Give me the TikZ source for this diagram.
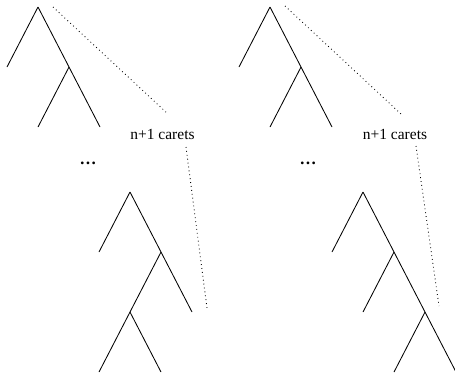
\documentclass[tikz,border=0pt]{standalone}
\usepackage{fontspec}
\setmainfont{Liberation Serif}
\begin{document}
\begin{tikzpicture}[
    x=0.025cm, y=-0.025cm,
    level distance=1.5cm,
    sibling distance=1.55cm,
    edge from parent/.style={draw, line width=0.6pt},
    % lower trees are a little taller
    lower/.style={level distance=1.55cm},
    caretlabel/.style={font=\fontsize{11}{13}\selectfont, inner sep=0pt},
    dotslabel/.style={font=\fontsize{12}{14}\selectfont\bfseries, inner sep=0pt},
    bound/.style={dash pattern=on 0.6pt off 2.2pt, line width=0.6pt}
  ]
  \useasboundingbox (0,0) rectangle (455,378);

  % left picture
  \coordinate (ltop) at (38,7)
    child {coordinate (ltopl)}
    child {coordinate (ltopr)
      child {coordinate (ltoprl)}
      child {coordinate (ltoprr)}
    };
  \coordinate[lower] (lbot) at (130,192)
    child {coordinate (lbotl)}
    child {coordinate (lbotr)
      child {coordinate (lbotrl)
        child {coordinate (lbotrll)}
        child {coordinate (lbotrlr)}
      }
      child {coordinate (lbotrr)}
    };
  \node[caretlabel] (lcarets) at (162.5,134) {n+1 carets};
  \node[dotslabel] (ldots) at (88,163) {\ldots};
  \coordinate (lbounda) at (53,7);
  \coordinate (lboundb) at (168,114);
  \coordinate (lboundc) at (186,147);
  \coordinate (lboundd) at (207,308);
  \draw[bound] (lbounda) -- (lboundb);
  \draw[bound] (lboundc) -- (lboundd);

  % right picture
  \coordinate (rtop) at (270,7)
    child {coordinate (rtopl)}
    child {coordinate (rtopr)
      child {coordinate (rtoprl)}
      child {coordinate (rtoprr)}
    };
  \coordinate[lower] (rbot) at (363,192)
    child {coordinate (rbotl)}
    child {coordinate (rbotr)
      child {coordinate (rbotrl)}
      child {coordinate (rbotrr)
        child {coordinate (rbotrrl)}
        child {coordinate (rbotrrr)}
      }
    };
  \node[caretlabel] (rcarets) at (395,134) {n+1 carets};
  \node[dotslabel] (rdots) at (308,163) {\ldots};
  \coordinate (rbounda) at (285,6);
  \coordinate (rboundb) at (401,114);
  \coordinate (rboundc) at (416,146);
  \coordinate (rboundd) at (439,306);
  \draw[bound] (rbounda) -- (rboundb);
  \draw[bound] (rboundc) -- (rboundd);
\end{tikzpicture}
\end{document}
